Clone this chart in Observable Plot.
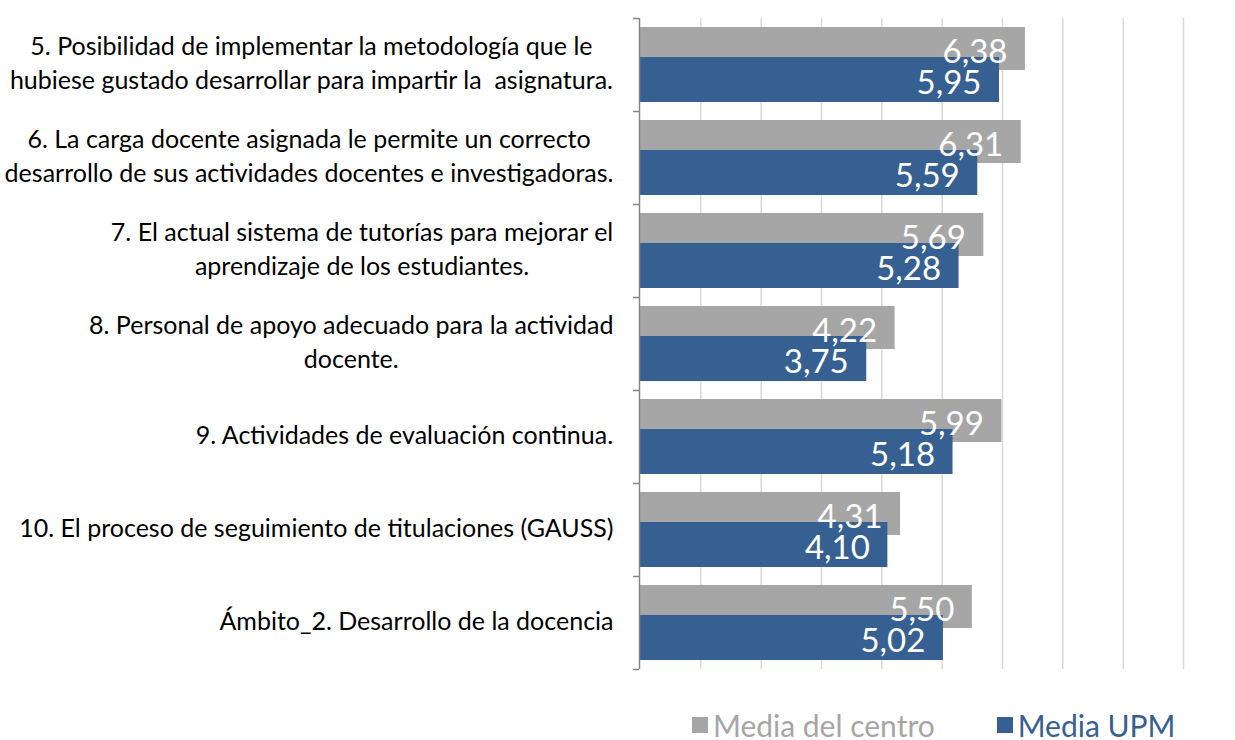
<!DOCTYPE html>
<html>
<head>
<meta charset="utf-8">
<script src="https://cdn.jsdelivr.net/npm/d3@7"></script>
<script src="https://cdn.jsdelivr.net/npm/@observablehq/plot@0.6"></script>
<style>
  html, body { margin: 0; padding: 0; background: #fff; }
  #chart { width: 1235px; }
  .legend { display: flex; align-items: center; padding-left: 692px; padding-top: 18px; font-family: Lato, sans-serif; font-size: 30px; line-height: 1; white-space: nowrap; }
  .legend .item { display: flex; align-items: center; margin-right: 62px; flex-shrink: 0; }
  .legend .sw { width: 16px; height: 16px; margin-right: 5px; flex-shrink: 0; }
</style>
</head>
<body>
<div id="chart"></div>
<script>
// ---- data ----
const categories = [
  "5. Posibilidad de implementar la metodología que le\nhubiese gustado desarrollar para impartir la\u00a0 asignatura.",
  "6. La carga docente asignada le permite un correcto\ndesarrollo de sus actividades docentes e investigadoras.",
  "7. El actual sistema de tutorías para mejorar el\naprendizaje de los estudiantes.",
  "8. Personal de apoyo adecuado para la actividad\ndocente.",
  "9. Actividades de evaluación continua.",
  "10. El proceso de seguimiento de titulaciones (GAUSS)",
  "Ámbito_2. Desarrollo de la docencia"
];
const seriesNames = ["Media del centro", "Media UPM"];
const mediaCentro = [6.38, 6.31, 5.69, 4.22, 5.99, 4.31, 5.50];
const mediaUPM    = [5.95, 5.59, 5.28, 3.75, 5.18, 4.10, 5.02];
const seriesColors = ["#a6a6a6", "#376092"];
const xDomain = [0, 9];
const gridTicks = [1, 2, 3, 4, 5, 6, 7, 8, 9];

// ---- build rows ----
const rows = [];
categories.forEach((c, i) => {
  rows.push({cat: c, series: seriesNames[0], value: mediaCentro[i]});
  rows.push({cat: c, series: seriesNames[1], value: mediaUPM[i]});
});
const fmt = v => v.toFixed(2).replace(".", ",");

// ---- layout ----
const W = 1235, H = 692, mTop = 18, mBottom = 23, mLeft = 640, mRight = 52;
const bw = (H - mTop - mBottom) / categories.length;
const labelFont = 25, labelLH = 34 / labelFont, labelGap = 27;

const ctx = document.createElement("canvas").getContext("2d");
ctx.font = `${labelFont}px Lato`;
const labelMarks = categories.map(c => {
  const w = Math.max(...c.split("\n").map(s => ctx.measureText(s).width));
  return Plot.text([c], {
    y: d => d, frameAnchor: "left", textAnchor: "middle", lineAnchor: "middle",
    dx: -labelGap - w / 2, dy: -3.5, fontSize: labelFont, lineHeight: labelLH, fill: "#000"
  });
});

const plot = Plot.plot({
  width: W, height: H,
  marginTop: mTop, marginBottom: mBottom, marginLeft: mLeft, marginRight: mRight,
  style: {fontFamily: "Lato, sans-serif", background: "#fff"},
  x: {domain: xDomain, axis: null},
  y: {domain: categories, padding: 0, axis: null},
  color: {domain: seriesNames, range: seriesColors},
  marks: [
    Plot.ruleX(gridTicks, {stroke: "#d9d9d9", strokeWidth: 1.5}),
    Plot.barX(rows.filter(d => d.series === seriesNames[0]), {x: "value", y: "cat", fill: "series", insetTop: 9, insetBottom: 41}),
    Plot.barX(rows.filter(d => d.series === seriesNames[1]), {x: "value", y: "cat", fill: "series", insetTop: 39, insetBottom: 9}),
    Plot.ruleX([0], {stroke: "#868686", strokeWidth: 1.5, dx: -1}),
    Plot.axisY({tickSize: 6, tickFormat: () => "", label: null, dy: -bw / 2, dx: -1, stroke: "#868686", strokeWidth: 1.5}),
    Plot.axisY([categories[categories.length - 1]], {tickSize: 6, tickFormat: () => "", label: null, dy: bw / 2, dx: -1, stroke: "#868686", strokeWidth: 1.5}),
    Plot.text(rows.filter(d => d.series === seriesNames[0]), {x: "value", y: "cat", text: d => fmt(d.value), textAnchor: "end", dx: -18, dy: -13, fill: "#fff", fontSize: 33}),
    Plot.text(rows.filter(d => d.series === seriesNames[1]), {x: "value", y: "cat", text: d => fmt(d.value), textAnchor: "end", dx: -18, dy: 18, fill: "#fff", fontSize: 33}),
    ...labelMarks
  ]
});
const chart = document.getElementById("chart");
chart.appendChild(plot);

// ---- legend ----
const legend = document.createElement("div");
legend.className = "legend";
seriesNames.forEach((s, i) => {
  const item = document.createElement("div");
  item.className = "item";
  const sw = document.createElement("span");
  sw.className = "sw";
  sw.style.background = seriesColors[i];
  const tx = document.createElement("span");
  tx.textContent = s;
  tx.style.color = seriesColors[i];
  item.appendChild(sw); item.appendChild(tx);
  legend.appendChild(item);
});
chart.appendChild(legend);
</script>
</body>
</html>
